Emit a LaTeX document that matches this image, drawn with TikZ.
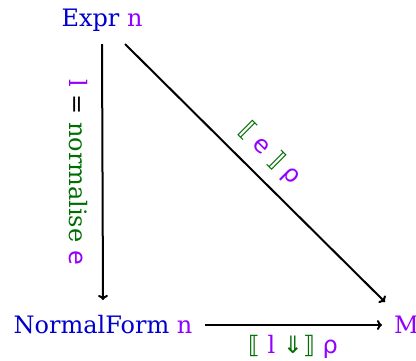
\documentclass[tikz,border=0pt]{standalone}
\usepackage{fontspec}
\setmainfont{DejaVu Serif}
\newfontfamily\symf{DejaVu Sans}
\usepackage{xcolor}
\usetikzlibrary{arrows.meta}
\definecolor{tblue}{RGB}{0,0,205}
\definecolor{tpurple}{RGB}{148,0,255}
\definecolor{tgreen}{RGB}{0,110,0}
\newcommand{\pv}[1]{\textcolor{tpurple}{#1}}
\newcommand{\gv}[1]{\textcolor{tgreen}{#1}}
\begin{document}
\begin{tikzpicture}[x=1pt,y=-1pt,
  every node/.style={font=\fontsize{24}{28}\selectfont, inner sep=0pt},
  arr/.style={-{To[length=5pt,width=10pt]}, line width=2pt}]
\useasboundingbox (0,0) rectangle (416,360);
\node (expr) at (102,20) {\textcolor{tblue}{Expr} \pv{n}};
\node (nf) at (103,325) {\textcolor{tblue}{NormalForm} \pv{n}};
\node[anchor=west] (M) at (394,325) {\pv{M}};
\coordinate (d1) at (125,44);
\coordinate (d2) at (385,302);
\draw[arr] (expr.south |- d1) -- (nf.north |- 0,300);
\draw[arr] (d1) -- (d2);
\draw[arr] (nf.east -| 205,0) -- (M.west -| 382,0);
\node[rotate=-90] (l1) at (78,172) {\pv{l} = \gv{normalise} \pv{\symf e}};
\node[rotate=-44.8] (l2) at (270,154) {\gv{\symf ⟦} \pv{\symf e} \gv{\symf ⟧} \pv{\symf ρ}};
\node (l3) at (293,347) {\gv{\symf ⟦} \pv{l} \gv{\symf ⇓⟧} \pv{\symf ρ}};
\end{tikzpicture}
\end{document}
